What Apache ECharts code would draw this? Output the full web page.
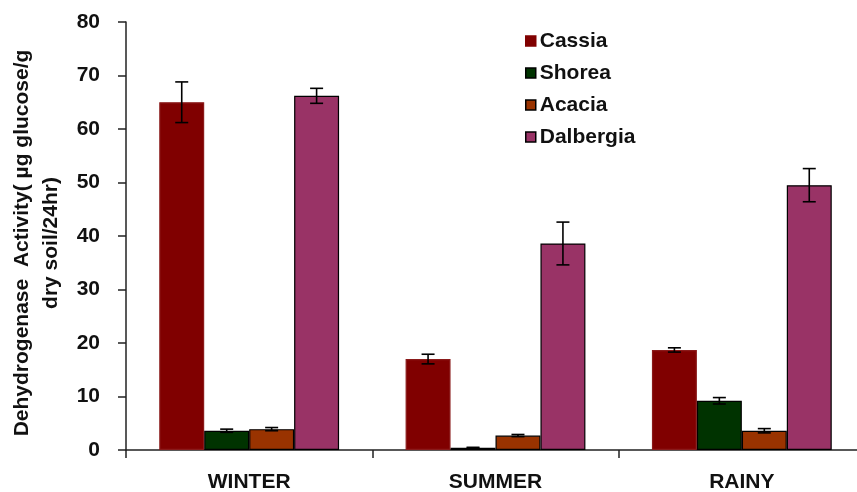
<!DOCTYPE html>
<html>
<head>
<meta charset="utf-8">
<script src="https://cdn.jsdelivr.net/npm/echarts@6/dist/echarts.min.js"></script>
<style>
  html, body { margin: 0; padding: 0; background: #fff; }
  #chart { width: 857px; height: 492px; }
</style>
</head>
<body>
<div id="chart"></div>
<script>
// Seasons on the category axis
const seasons = ['WINTER', 'SUMMER', 'RAINY'];

// Mean dehydrogenase activity per tree species
const cassia    = [65.0, 17.0, 18.7];
const shorea    = [3.6, 0.4, 9.2];
const acacia    = [3.9, 2.7, 3.6];
const dalbergia = [66.2, 38.6, 49.5];

// Standard error for each mean
const cassiaErr    = [3.8, 0.9, 0.4];
const shoreaErr    = [0.3, 0.1, 0.6];
const acaciaErr    = [0.3, 0.2, 0.4];
const dalbergiaErr = [1.4, 4.0, 3.1];

const yTicks = [0, 10, 20, 30, 40, 50, 60, 70, 80];

const FONT = '"Liberation Sans", Arial, sans-serif';
const TXT = '#111';
const CAT_GAP = 0.27;

const groups = [
  { name: 'Cassia',    values: cassia,    err: cassiaErr,    color: '#800000', border: '#8a1a1a' },
  { name: 'Shorea',    values: shorea,    err: shoreaErr,    color: '#003300', border: '#000' },
  { name: 'Acacia',    values: acacia,    err: acaciaErr,    color: '#993300', border: '#000' },
  { name: 'Dalbergia', values: dalbergia, err: dalbergiaErr, color: '#993366', border: '#000' }
];

const barSeries = groups.map(g => ({
  name: g.name,
  type: 'bar',
  data: g.values,
  barGap: 0,
  barCategoryGap: (CAT_GAP * 100) + '%',
  itemStyle: { color: g.color, borderColor: g.border, borderWidth: 1.2 },
  emphasis: { disabled: true }
}));

// Error bars drawn on top of the bars, offset to each bar's slot
const errSeries = groups.map((g, si) => ({
  type: 'custom',
  silent: true,
  z: 10,
  data: g.values.map((v, i) => [i, v, g.err[i]]),
  renderItem: function (params, api) {
    const idx = api.value(0);
    const mean = api.value(1);
    const e = api.value(2);
    const catW = api.size([1, 0])[0];
    const barW = catW * (1 - CAT_GAP) / groups.length;
    const cx = api.coord([idx, mean])[0] + (si - (groups.length - 1) / 2) * barW;
    const yHi = api.coord([idx, mean + e])[1];
    const yLo = api.coord([idx, Math.max(0, mean - e)])[1];
    const cap = 6.5;
    const st = { stroke: '#000', lineWidth: 1.6 };
    return {
      type: 'group',
      children: [
        { type: 'line', shape: { x1: cx, y1: yHi, x2: cx, y2: yLo }, style: st },
        { type: 'line', shape: { x1: cx - cap, y1: yHi, x2: cx + cap, y2: yHi }, style: st },
        { type: 'line', shape: { x1: cx - cap, y1: yLo, x2: cx + cap, y2: yLo }, style: st }
      ]
    };
  }
}));

const chart = echarts.init(document.getElementById('chart'), null, { renderer: 'canvas' });
chart.setOption({
  animation: false,
  backgroundColor: '#fff',
  textStyle: { fontFamily: FONT },
  grid: { left: 126, right: -8, top: 22, bottom: 42, containLabel: false, outerBoundsMode: 'none' },
  legend: {
    orient: 'vertical',
    left: 520,
    top: 25,
    itemWidth: 10,
    itemHeight: 10,
    itemGap: 10,
    icon: 'rect',
    data: groups.map(g => ({
      name: g.name,
      itemStyle: { color: g.color, borderColor: g.name === 'Cassia' ? g.color : '#000', borderWidth: 1.5 }
    })),
    textStyle: { fontFamily: FONT, fontWeight: 'bold', fontSize: 21, color: TXT, lineHeight: 22, padding: [0, 0, 0, -1] }
  },
  xAxis: {
    type: 'category',
    data: seasons,
    axisLine: { lineStyle: { color: '#222', width: 1.5 } },
    axisTick: { show: true, alignWithLabel: false, length: 8, lineStyle: { color: '#222', width: 1.5 } },
    axisLabel: { fontFamily: FONT, fontWeight: 'bold', fontSize: 21, color: TXT, margin: 22 },
    splitLine: { show: false }
  },
  yAxis: {
    type: 'value',
    min: yTicks[0],
    max: yTicks[yTicks.length - 1],
    interval: yTicks[1] - yTicks[0],
    name: 'Dehydrogenase  Activity( µg glucose/g\ndry soil/24hr)',
    nameLocation: 'middle',
    nameGap: 60,
    nameRotate: 90,
    nameTextStyle: { fontFamily: FONT, fontWeight: 'bold', fontSize: 21, color: TXT, lineHeight: 29, align: 'center', padding: [0, 14, 0, 0] },
    axisLine: { show: true, lineStyle: { color: '#222', width: 1.5 } },
    axisTick: { show: true, length: 8, lineStyle: { color: '#222', width: 1.5 } },
    axisLabel: { fontFamily: FONT, fontWeight: 'bold', fontSize: 21, color: TXT, margin: 26 },
    splitLine: { show: false }
  },
  series: barSeries.concat(errSeries)
});
</script>
</body>
</html>
